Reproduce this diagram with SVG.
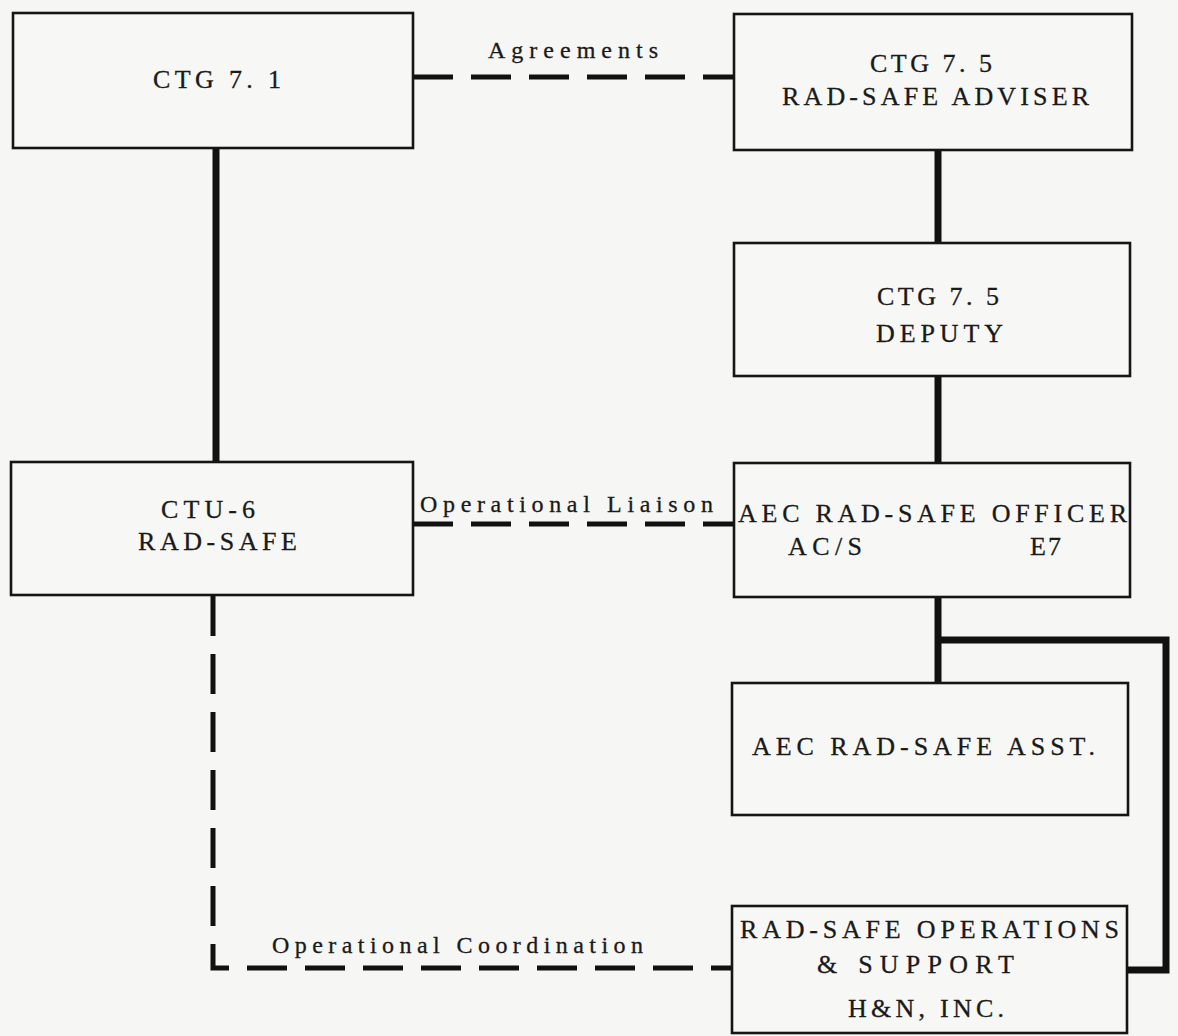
<svg xmlns="http://www.w3.org/2000/svg" width="1178" height="1036" viewBox="0 0 1178 1036">
<style>
.box{fill:#f7f7f5;stroke:#151515;stroke-width:2.6}
.t{font-family:"Liberation Serif","Times New Roman",serif;font-size:26px;fill:#1a1a1a;stroke:#1a1a1a;stroke-width:0.3}
.l{font-size:24px}
.solid{fill:none;stroke:#111;stroke-width:7;stroke-linecap:butt}
.dash{fill:none;stroke:#111;stroke-width:5;stroke-dasharray:40 18}
</style>
<rect width="1178" height="1036" fill="#f6f6f4"/>
<g id="connectors">
<line class="solid" x1="216" y1="148" x2="216" y2="463"/>
<line class="solid" x1="938" y1="150" x2="938" y2="244"/>
<line class="solid" x1="938" y1="376" x2="938" y2="464"/>
<line class="solid" x1="938" y1="597" x2="938" y2="684"/>
<polyline class="solid" points="938,640 1166,640 1166,970 1127,970"/>
<polyline class="dash" points="413,77 733,77" stroke-dasharray="28 20 40 20 40 20 40 20 40 20 40"/>
<polyline class="dash" points="413,524 734,524" stroke-dasharray="18 14 34 14 34 14 34 14 34 14 34 14 34 14 34"/>
<polyline class="dash" points="213,596 213,968 732,968" stroke-dasharray="36 14"/>
<text class="t l" x="488" y="58" textLength="170" lengthAdjust="spacing">Agreements</text>
<text class="t l" x="420" y="512" textLength="293" lengthAdjust="spacing">Operational Liaison</text>
<text class="t l" x="272" y="953" textLength="371" lengthAdjust="spacing">Operational Coordination</text>
</g>
<g id="ctg71">
<rect class="box" x="13" y="13" width="400" height="135"/>
<text class="t" x="153" y="88" textLength="128" lengthAdjust="spacing">CTG 7. 1</text>
</g>
<g id="adviser">
<rect class="box" x="734" y="14" width="398" height="136"/>
<text class="t" x="870" y="72" textLength="122" lengthAdjust="spacing">CTG 7. 5</text>
<text class="t" x="782" y="105" textLength="307" lengthAdjust="spacing">RAD-SAFE ADVISER</text>
</g>
<g id="deputy">
<rect class="box" x="734" y="243" width="396" height="133"/>
<text class="t" x="877" y="305" textLength="122" lengthAdjust="spacing">CTG 7. 5</text>
<text class="t" x="876" y="342" textLength="127" lengthAdjust="spacing">DEPUTY</text>
</g>
<g id="ctu6">
<rect class="box" x="11" y="462" width="402" height="133"/>
<text class="t" x="161" y="518" textLength="94" lengthAdjust="spacing">CTU-6</text>
<text class="t" x="138" y="550" textLength="159" lengthAdjust="spacing">RAD-SAFE</text>
</g>
<g id="officer">
<rect class="box" x="734" y="463" width="396" height="134"/>
<text class="t" x="738" y="522" textLength="389" lengthAdjust="spacing">AEC RAD-SAFE OFFICER</text>
<text class="t" x="788" y="555" textLength="74" lengthAdjust="spacing">AC/S</text>
<text class="t" x="1030" y="555" textLength="31" lengthAdjust="spacing">E7</text>
</g>
<g id="asst">
<rect class="box" x="732" y="683" width="396" height="132"/>
<text class="t" x="752" y="755" textLength="343" lengthAdjust="spacing">AEC RAD-SAFE ASST.</text>
</g>
<g id="ops">
<rect class="box" x="732" y="906" width="395" height="127"/>
<text class="t" x="740" y="938" textLength="379" lengthAdjust="spacing">RAD-SAFE OPERATIONS</text>
<text class="t" x="817" y="973" textLength="197" lengthAdjust="spacing">&amp; SUPPORT</text>
<text class="t" x="848" y="1017" textLength="156" lengthAdjust="spacing">H&amp;N, INC.</text>
</g>
</svg>
